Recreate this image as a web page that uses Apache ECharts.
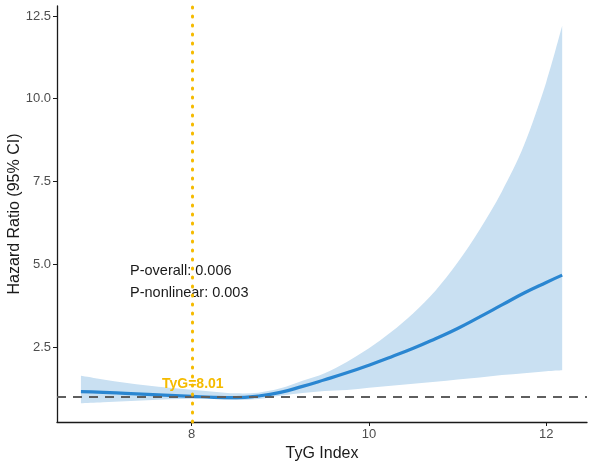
<!DOCTYPE html>
<html>
<head>
<meta charset="utf-8">
<script src="https://cdn.jsdelivr.net/npm/echarts@6/dist/echarts.min.js"></script>
<style>
  html, body { margin: 0; padding: 0; background: #fff; }
  #chart { width: 590px; height: 465px; }
</style>
</head>
<body>
<div id="chart"></div>
<script>
// TyG index values along the spline
var tyg = [6.75, 7.0, 7.25, 7.5, 7.75, 8.0, 8.25, 8.5, 8.75, 9.0, 9.25, 9.5, 9.75,
           10.0, 10.25, 10.5, 10.75, 11.0, 11.25, 11.5, 11.75, 12.0, 12.18];
// hazard ratio estimate
var hr = [1.15, 1.13, 1.10, 1.07, 1.04, 1.01, 0.98, 0.97, 1.02, 1.13, 1.31, 1.51, 1.72,
          1.95, 2.20, 2.46, 2.75, 3.06, 3.41, 3.77, 4.13, 4.45, 4.67];
// 95% CI
var upper = [1.63, 1.52, 1.42, 1.34, 1.27, 1.21, 1.15, 1.10, 1.12, 1.25, 1.48, 1.71, 2.05,
             2.46, 2.95, 3.52, 4.20, 5.05, 6.05, 7.20, 8.60, 10.50, 12.20];
var lower = [0.80, 0.83, 0.86, 0.89, 0.92, 0.94, 0.93, 0.90, 0.93, 1.03, 1.11, 1.17, 1.20,
             1.27, 1.33, 1.39, 1.45, 1.52, 1.58, 1.65, 1.71, 1.77, 1.80];
var xTicks = [8, 10, 12];
var yTicks = [2.5, 5.0, 7.5, 10.0, 12.5];
var cutoff = 8.01;
var refHR = 1;
var pOverall = '0.006';
var pNonlinear = '0.003';

var chart = echarts.init(document.getElementById('chart'));

// smooth path through pixel points (catmull-rom -> bezier)
function curvePath(pts, start) {
  var d = start ? 'M' + pts[0][0] + ',' + pts[0][1] : 'L' + pts[0][0] + ',' + pts[0][1];
  for (var i = 0; i < pts.length - 1; i++) {
    var p0 = pts[i - 1] || pts[i], p1 = pts[i], p2 = pts[i + 1], p3 = pts[i + 2] || pts[i + 1];
    var c1x = p1[0] + (p2[0] - p0[0]) / 6, c1y = p1[1] + (p2[1] - p0[1]) / 6;
    var c2x = p2[0] - (p3[0] - p1[0]) / 6, c2y = p2[1] - (p3[1] - p1[1]) / 6;
    d += 'C' + c1x + ',' + c1y + ',' + c2x + ',' + c2y + ',' + p2[0] + ',' + p2[1];
  }
  return d;
}

var renderBand = function (params, api) {
  var up = tyg.map(function (x, i) { return api.coord([x, upper[i]]); });
  var lo = tyg.map(function (x, i) { return api.coord([x, lower[i]]); }).reverse();
  return {
    type: 'path',
    shape: { pathData: curvePath(up, true) + curvePath(lo, false) + 'Z' },
    style: { fill: '#c9e0f2', stroke: null }
  };
};

var option = {
  animation: false,
  backgroundColor: '#fff',
  grid: { left: 57, right: 3, top: 6, bottom: 43, outerBoundsMode: 'none', containLabel: false },
  xAxis: {
    type: 'value',
    min: 6.48,
    max: 12.46,
    name: 'TyG Index',
    nameLocation: 'middle',
    nameGap: 22,
    nameTextStyle: { color: '#1a1a1a', fontSize: 16, fontFamily: 'Liberation Sans' },
    axisLine: { lineStyle: { color: '#1a1a1a', width: 1.3 } },
    axisTick: { customValues: xTicks, length: 4, lineStyle: { color: '#1a1a1a' } },
    axisLabel: {
      customValues: xTicks,
      color: '#4d4d4d', fontSize: 13, fontFamily: 'Liberation Sans', margin: 6
    },
    splitLine: { show: false }
  },
  yAxis: {
    type: 'value',
    min: 0.234,
    max: 12.8,
    name: 'Hazard Ratio (95% CI)',
    nameLocation: 'middle',
    nameGap: 34,
    nameMoveOverlap: false,
    nameTextStyle: { color: '#1a1a1a', fontSize: 16, fontFamily: 'Liberation Sans' },
    axisLine: { show: true, lineStyle: { color: '#1a1a1a', width: 1.3 } },
    axisTick: { show: true, customValues: yTicks, length: 4, lineStyle: { color: '#1a1a1a' } },
    axisLabel: {
      customValues: yTicks,
      color: '#4d4d4d', fontSize: 13, fontFamily: 'Liberation Sans', margin: 6,
      formatter: function (v) { return v.toFixed(1); }
    },
    splitLine: { show: false }
  },
  series: [
    {
      name: 'CI',
      type: 'custom',
      renderItem: renderBand,
      data: [0],
      silent: true,
      z: 1
    },
    {
      name: 'HR',
      type: 'line',
      data: tyg.map(function (x, i) { return [x, hr[i]]; }),
      smooth: true,
      showSymbol: false,
      lineStyle: { color: '#2a86d1', width: 3.2 },
      z: 3,
      markLine: {
        silent: true,
        symbol: 'none',
        label: { show: false },
        data: [
          {
            yAxis: refHR,
            lineStyle: { color: '#5e5e5e', type: [9, 7], width: 2.2 }
          },
          {
            xAxis: cutoff,
            lineStyle: { color: '#f5bb00', type: [1, 8], width: 3, cap: 'round' }
          }
        ]
      }
    }
  ],
  graphic: [
    {
      type: 'text',
      left: 130, top: 263,
      style: { text: 'P-overall: ' + pOverall, fill: '#1a1a1a', fontSize: 14.5, fontFamily: 'Liberation Sans' }
    },
    {
      type: 'text',
      left: 130, top: 285,
      style: { text: 'P-nonlinear: ' + pNonlinear, fill: '#1a1a1a', fontSize: 14.5, fontFamily: 'Liberation Sans' }
    },
    {
      type: 'text',
      left: 162, top: 377,
      z: 10,
      style: { text: 'TyG=' + cutoff.toFixed(2), fill: '#f5bb00', fontSize: 14, fontWeight: 'bold', fontFamily: 'Liberation Sans' }
    }
  ]
};

chart.setOption(option);
</script>
</body>
</html>
